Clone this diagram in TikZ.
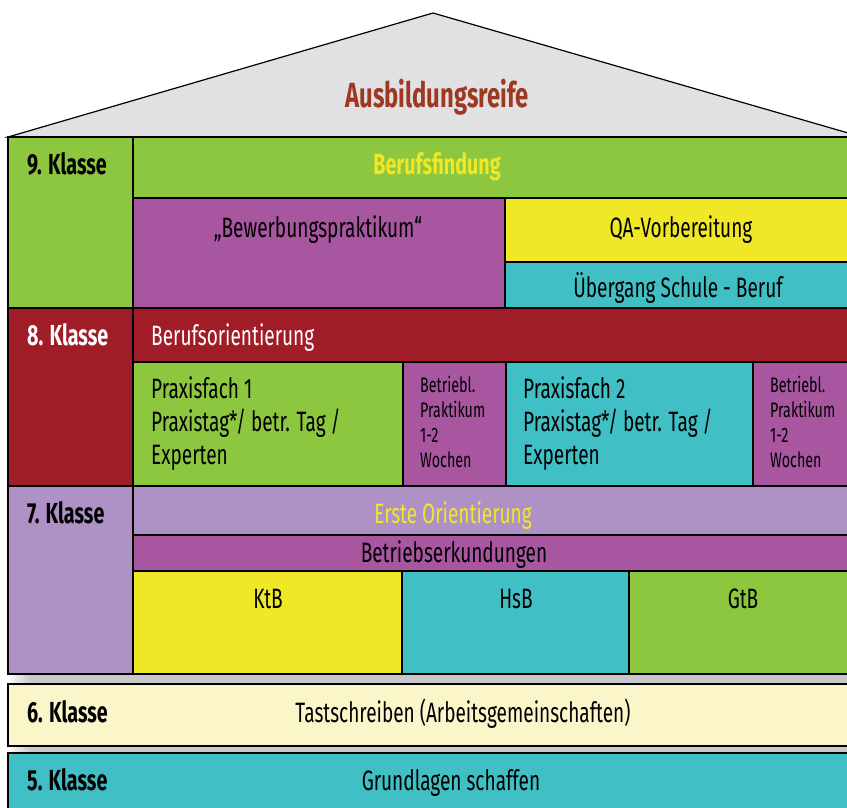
\documentclass[tikz,border=0pt]{standalone}
\usepackage{fontspec}
\setmainfont{Fira Sans}[FakeStretch=0.68]
\usepackage{tikz}
\usetikzlibrary{positioning}
\definecolor{roofgray}{RGB}{225, 225, 228}
\definecolor{titlebrown}{RGB}{158, 56, 32}
\definecolor{hgreen}{RGB}{141, 198, 63}
\definecolor{hpurple}{RGB}{168, 86, 160}
\definecolor{hyellow}{RGB}{240, 232, 38}
\definecolor{hteal}{RGB}{64, 191, 197}
\definecolor{hred}{RGB}{160, 28, 38}
\definecolor{hlavender}{RGB}{174, 146, 198}
\definecolor{hcream}{RGB}{250, 246, 202}
\definecolor{shadowgray}{RGB}{200, 200, 204}
\tikzset{
    box/.style = {draw=black, line width=1.2pt},
    klassenode/.style = {anchor=base west, inner sep=0em, font=\fontsize{29}{33}\selectfont\bfseries},
    textnode/.style = {anchor=base, inner sep=0em, font=\fontsize{28}{33}\selectfont},
    lefttextnode/.style = {anchor=base west, inner sep=0em, align=left, font=\fontsize{28}{33}\selectfont},
    smalltextnode/.style = {anchor=base west, inner sep=0em, align=left, font=\fontsize{21}{25}\selectfont}
}
\begin{document}
\begin{tikzpicture}[x=1pt, y=-1pt]
    \clip (0,0) rectangle (847,808);
    \fill[white] (0,0) rectangle (847,808);

    % Dach
    \draw[box, fill=roofgray] (8,137) -- (433,13) -- (862,137) -- cycle;
    \node [name = Title, anchor=base, inner sep=0em, text=titlebrown,
        font=\fontsize{35}{40}\selectfont\bfseries] at (437,107) {Ausbildungsreife};

    % 9. Klasse
    \draw[box, fill=hgreen] (8,137) rectangle (133,308);
    \draw[box, fill=hgreen] (133,137) rectangle (862,198);
    \draw[box, fill=hpurple] (133,198) rectangle (505,308);
    \draw[box, fill=hyellow] (505,198) rectangle (862,262);
    \draw[box, fill=hteal] (505,262) rectangle (862,308);
    \node [name = K9, klassenode] at (27,175) {9. Klasse};
    \node [name = Findung, textnode, text=hyellow, font=\fontsize{29}{33}\selectfont\bfseries] at (437,175) {Berufsfindung};
    \node [name = Bewerbung, textnode] at (318,237) {„Bewerbungspraktikum“};
    \node [name = QA, textnode] at (681,237) {QA-Vorbereitung};
    \node [name = Uebergang, textnode] at (678,297) {Übergang Schule - Beruf};

    % 8. Klasse (mehrzeilige Knoten: base = letzte Zeile)
    \draw[box, fill=hred] (8,308) rectangle (133,486);
    \draw[box, fill=hred] (133,308) rectangle (862,362);
    \draw[box, fill=hgreen] (133,362) rectangle (403,486);
    \draw[box, fill=hpurple] (403,362) rectangle (506,486);
    \draw[box, fill=hteal] (506,362) rectangle (753,486);
    \draw[box, fill=hpurple] (753,362) rectangle (862,486);
    \node [name = K8, klassenode, text=white] at (27,345) {8. Klasse};
    \node [name = Orient, lefttextnode, text=white] at (151,345) {Berufsorientierung};
    \node [name = PF1, lefttextnode] at (151,464) {Praxisfach 1\\Praxistag*/ betr. Tag /\\Experten};
    \node [name = BP1, smalltextnode] at (420,467) {Betriebl.\\Praktikum\\1-2\\Wochen};
    \node [name = PF2, lefttextnode] at (523,464) {Praxisfach 2\\Praxistag*/ betr. Tag /\\Experten};
    \node [name = BP2, smalltextnode] at (770,467) {Betriebl.\\Praktikum\\1-2\\Wochen};

    % 7. Klasse
    \draw[box, fill=hlavender] (8,486) rectangle (133,674);
    \draw[box, fill=hlavender] (133,486) rectangle (862,535);
    \draw[box, fill=hpurple] (133,535) rectangle (862,571);
    \draw[box, fill=hyellow] (133,571) rectangle (402,674);
    \draw[box, fill=hteal] (402,571) rectangle (629,674);
    \draw[box, fill=hgreen] (629,571) rectangle (862,674);
    \node [name = K7, klassenode] at (27,523) {7. Klasse};
    \node [name = Erste, textnode, text=hyellow] at (453,523) {Erste Orientierung};
    \node [name = Erkund, textnode] at (454,562) {Betriebserkundungen};
    \node [name = KtB, textnode] at (268,608) {KtB};
    \node [name = HsB, textnode] at (516,608) {HsB};
    \node [name = GtB, textnode] at (743,608) {GtB};

    % Schatten
    \fill[shadowgray] (30,675) rectangle (862,684);
    \shade[left color=white, right color=shadowgray] (8,675) rectangle (30,684);
    \fill[shadowgray] (30,746) rectangle (862,753);
    \shade[left color=white, right color=shadowgray] (8,746) rectangle (30,753);

    % 6. und 5. Klasse
    \draw[box, fill=hcream] (8,684) rectangle (862,746);
    \draw[box, fill=hteal] (8,753) rectangle (862,815);
    \node [name = K6, klassenode] at (27,722) {6. Klasse};
    \node [name = Tast, textnode] at (463,722) {Tastschreiben (Arbeitsgemeinschaften)};
    \node [name = K5, klassenode] at (27,790) {5. Klasse};
    \node [name = Grund, textnode] at (451,790) {Grundlagen schaffen};
\end{tikzpicture}
\end{document}
